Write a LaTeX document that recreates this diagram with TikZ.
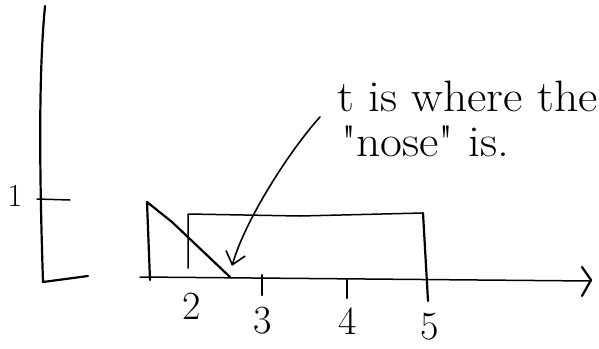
\documentclass[tikz,border=0pt]{standalone}
\usetikzlibrary{arrows.meta}
\begin{document}
\begin{tikzpicture}[x=1pt,y=-1pt,line cap=round,line join=round,
  ink/.style={line width=2.2pt},
  thinink/.style={line width=1.5pt},
  lbl/.style={font=\fontsize{40}{40}\selectfont,inner sep=0pt},
  note/.style={font=\fontsize{44}{48}\selectfont,inner sep=0pt,anchor=base west},
  pointer/.style={line width=1.6pt,-{Straight Barb[length=12pt,width=20pt]}}]
\useasboundingbox (0,0) rectangle (599,348);
% y axis
\draw[ink] (45,6) .. controls (39,70) and (39,160) .. (43,282) -- (88,276);
\draw[thinink] (37,199) -- (70,200);
\node[inner sep=0pt,font=\fontsize{32}{32}\selectfont] (one) at (15,196) {1};
% x axis
\draw[thinink] (140,277) -- (591,281);
\draw[ink] (582,267) -- (591,280) -- (582,296);
\draw[ink] (262,275) -- (262,295);
\draw[ink] (347,280) -- (347,298);
% nose triangle
\draw[ink] (150,280) -- (147,202) -- (172,222) -- (230,277);
% box
\draw[thinink] (188,268) -- (188,214) -- (300,216) -- (423,213);
\draw[ink] (423,213) -- (428,301);
% tick labels
\node[lbl] (l2) at (192,306) {2};
\node[lbl] (l3) at (263,321) {3};
\node[lbl] (l4) at (348,321) {4};
\node[lbl] (l5) at (430,327) {5};
% annotation
\node[note] (note1) at (337,111) {\scalebox{1.08}[1]{t is where the}};
\node[note] (note2) at (341,156) {\scalebox{1.08}[1]{\textquotedbl nose\textquotedbl{} is.}};
\coordinate (ns) at (320,117);
\coordinate (nose) at (232,266);
\draw[pointer] (ns) .. controls (290,150) and (245,220) .. (nose);
\end{tikzpicture}
\end{document}
